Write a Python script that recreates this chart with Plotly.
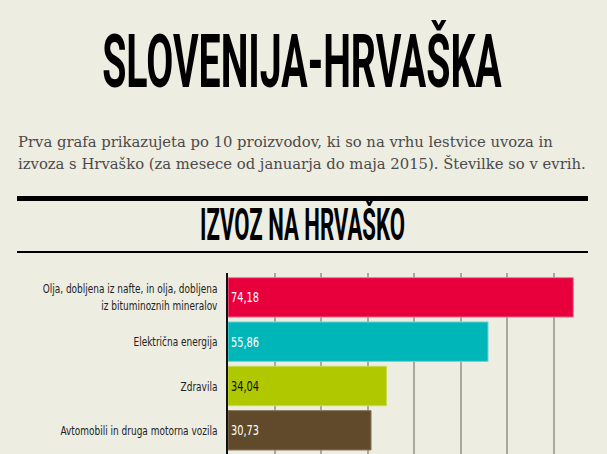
import plotly.graph_objects as go

W, H = 607, 454

title_text = "SLOVENIJA-HRVAŠKA"
intro_lines = [
    "Prva grafa prikazujeta po 10 proizvodov, ki so na vrhu lestvice uvoza in",
    "izvoza s Hrvaško (za mesece od januarja do maja 2015). Številke so v evrih.",
]
section_title = "IZVOZ NA HRVAŠKO"

categories = [
    "Olja, dobljena iz nafte, in olja, dobljena<br>iz bituminoznih mineralov",
    "Električna energija",
    "Zdravila",
    "Avtomobili in druga motorna vozila",
]
values = [74.18, 55.86, 34.04, 30.73]
bar_colors = ["#E8003D", "#00B6B9", "#AFC800", "#604A2B"]
bar_edges = ["#F27898", "#6FD6D6", "#C8DA55", "#8A7A60"]
label_colors = ["white", "white", "#111111", "white"]
grid_ticks = [0, 10, 20, 30, 40, 50, 60, 70]

BG = "#EEEDE2"

def px(x):
    return x / W

def py(y):
    return 1 - y / H

positions = list(range(len(categories)))
texts = [f"{v:.2f}".replace(".", ",") for v in values]

fig = go.Figure(
    go.Bar(
        x=values,
        y=positions,
        orientation="h",
        marker=dict(color=bar_colors, line=dict(color=bar_edges, width=1)),
        width=0.89,
        text=texts,
        textposition="inside",
        insidetextanchor="start",
        textangle=0,
        textfont=dict(family="DejaVu Sans Condensed", size=14, color=label_colors),
        cliponaxis=False,
        hoverinfo="skip",
    )
)

intro_ann = [
    dict(text=line, xref="paper", yref="paper", x=px(16), y=py(141 + 23 * i),
         xanchor="left", yanchor="middle", align="left", showarrow=False,
         font=dict(family="DejaVu Serif", size=14.8, color="#4A4A4A"))
    for i, line in enumerate(intro_lines)
]

fig.update_layout(
    width=W,
    height=H,
    margin=dict(l=0, r=0, t=0, b=0, autoexpand=False),
    paper_bgcolor=BG,
    plot_bgcolor=BG,
    showlegend=False,
    xaxis=dict(
        domain=[px(228), px(592)],
        range=[0, 78.2],
        tickvals=grid_ticks,
        showticklabels=False,
        showgrid=True,
        gridcolor="#A8A89F",
        gridwidth=1.5,
        zeroline=False,
        showline=False,
        fixedrange=True,
        automargin=False,
    ),
    yaxis=dict(
        domain=[0, py(273)],
        range=[3.535, -0.55],
        tickvals=positions,
        ticktext=categories,
        showgrid=False,
        zeroline=False,
        showline=True,
        linecolor="#111111",
        linewidth=2,
        ticks="",
        ticklabelstandoff=6,
        tickfont=dict(family="DejaVu Sans Condensed", size=13, color="#222222"),
        fixedrange=True,
        automargin=False,
    ),
    shapes=[
        dict(type="line", xref="paper", yref="paper", x0=px(17), x1=px(588),
             y0=py(198.5), y1=py(198.5), line=dict(color="#000000", width=5)),
        dict(type="line", xref="paper", yref="paper", x0=px(17), x1=px(588),
             y0=py(252), y1=py(252), line=dict(color="#000000", width=2)),
    ],
    annotations=[
        dict(text=title_text, xref="paper", yref="paper", x=px(302), y=py(61),
             xanchor="center", yanchor="middle", showarrow=False,
             font=dict(family="Roboto", size=75, color="#000000", weight=700)),
        dict(text=section_title, xref="paper", yref="paper", x=px(302), y=py(224),
             xanchor="center", yanchor="middle", showarrow=False,
             font=dict(family="Roboto", size=45, color="#000000", weight=700)),
    ] + intro_ann,
)

post = """
document.body.style.margin = '0';
var gd = document.getElementById('{plot_id}');
function squeeze(t, s, anchor) {
  var bb = t.getBBox();
  var x0 = anchor === 'end' ? bb.x + bb.width : (anchor === 'start' ? bb.x : bb.x + bb.width / 2);
  var prev = t.getAttribute('transform') || '';
  t.setAttribute('transform', prev + ' translate(' + x0 + ',0) scale(' + s + ',1) translate(' + (-x0) + ',0)');
}
var targets = {'SLOVENIJA-HRVAŠKA': 400, 'IZVOZ NA HRVAŠKO': 205};
gd.querySelectorAll('text.annotation-text').forEach(function(t){
  var w = targets[t.textContent];
  if (!w) return;
  squeeze(t, w / t.getBBox().width, 'middle');
});
var ticks = gd.querySelectorAll('g.ytick text');
var ref = null;
ticks.forEach(function(t){ if (t.textContent.indexOf('Avtomobili') === 0) ref = t; });
var ts = ref ? 157 / ref.getBBox().width : 0.82;
ticks.forEach(function(t){ squeeze(t, ts, 'end'); });
gd.querySelectorAll('g.points text').forEach(function(t){ squeeze(t, 0.78, 'start'); });
"""

fig.write_html("out.html", post_script=post, config={"displayModeBar": False})
